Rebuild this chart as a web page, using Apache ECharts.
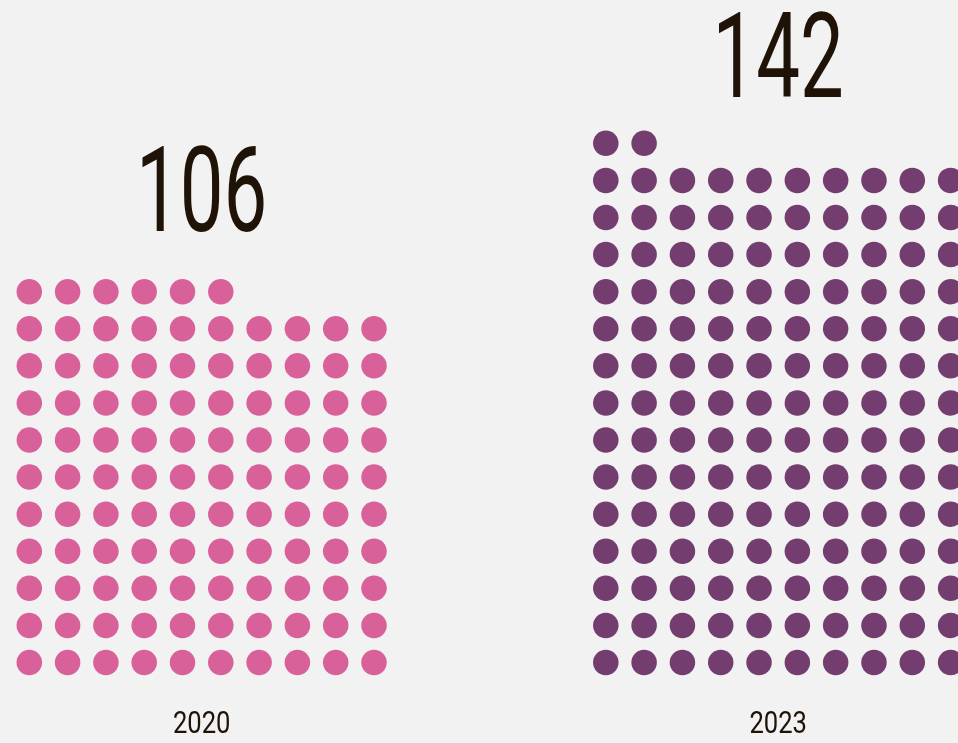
<!DOCTYPE html>
<html>
<head>
<meta charset="utf-8">
<style>
  html, body { margin: 0; padding: 0; background: #f2f2f2; }
  #chart { width: 958px; height: 743px; }
</style>
<script src="https://cdn.jsdelivr.net/npm/echarts@6/dist/echarts.min.js"></script>
</head>
<body>
<div id="chart"></div>
<script>
// Two dot grids: one dot per unit, ten dots to a row
const years = ['2020', '2023'];
const totals = [106, 142];
const dotColors = ['#d9619a', '#743d6f'];
const perRow = 10;

const chart = echarts.init(document.getElementById('chart'));

function dotsFor(total) {
  const pts = [];
  for (let i = 0; i < total; i++) {
    pts.push([i % perRow, Math.floor(i / perRow)]);
  }
  return pts;
}

const textColor = '#1f1206';
const fontFamily = 'Roboto';

// Condensed text: the glyphs are squeezed horizontally around their anchor
function labelSeries(g, kind) {
  const total = totals[g];
  const big = kind === 'value';
  const yPos = big ? total / perRow + 1 : -1.93;
  const text = big ? String(total) : years[g];
  return {
    type: 'custom',
    xAxisIndex: g,
    yAxisIndex: g,
    silent: true,
    data: [[(perRow - 1) / 2, yPos]],
    renderItem: function (params, api) {
      const p = api.coord([api.value(0), api.value(1)]);
      return {
        type: 'text',
        x: p[0],
        y: p[1] + (big ? 28 : 7),
        scaleX: big ? 0.66 : 0.8,
        style: {
          text: text,
          fill: textColor,
          fontFamily: fontFamily,
          fontSize: big ? 118 : 32,
          fontWeight: 400,
          align: 'center',
          verticalAlign: 'bottom'
        }
      };
    }
  };
}

const grids = [
  { left: 29.3, width: 344.7, top: 143.3, height: 519.2 },
  { left: 605.8, width: 344.8, top: 143.3, height: 519.2 }
];

const axisOff = { show: false };

const series = [];
totals.forEach(function (total, g) {
  series.push({
    type: 'scatter',
    xAxisIndex: g,
    yAxisIndex: g,
    symbol: 'circle',
    symbolSize: 25.5,
    clip: false,
    itemStyle: { color: dotColors[g], opacity: 1 },
    data: dotsFor(total)
  });
  series.push(labelSeries(g, 'value'));
  series.push(labelSeries(g, 'year'));
});

chart.setOption({
  backgroundColor: '#f2f2f2',
  animation: false,
  grid: grids,
  xAxis: grids.map(function (_, g) {
    return Object.assign({ type: 'value', gridIndex: g, min: 0, max: perRow - 1 }, axisOff);
  }),
  yAxis: grids.map(function (_, g) {
    return Object.assign({ type: 'value', gridIndex: g, min: 0, max: 14 }, axisOff);
  }),
  series: series
});
</script>
</body>
</html>
